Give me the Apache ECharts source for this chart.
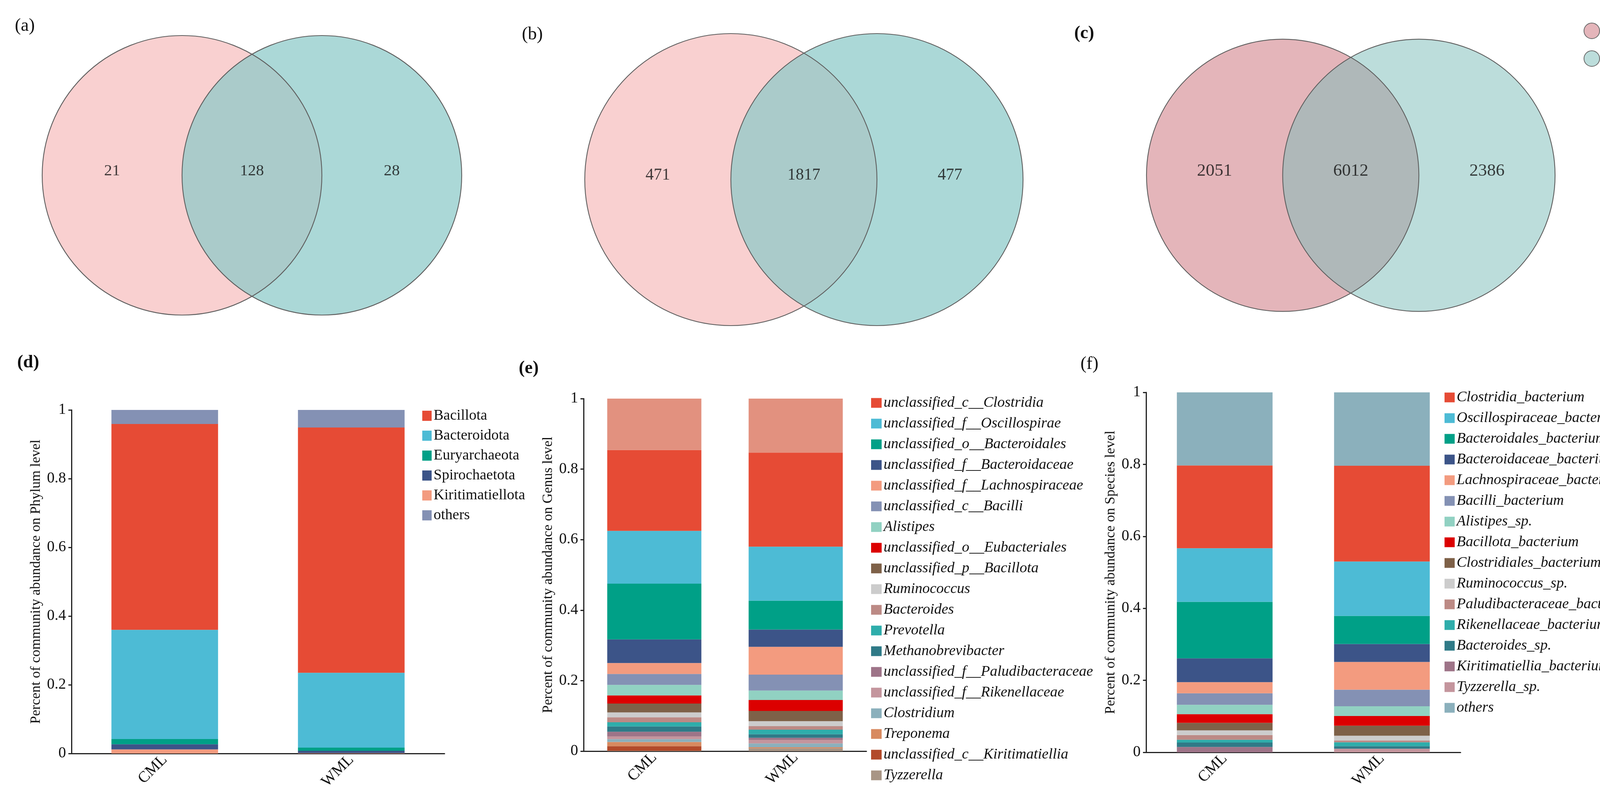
<!DOCTYPE html>
<html>
<head>
<meta charset="utf-8">
<script src="https://cdn.jsdelivr.net/npm/echarts@6/dist/echarts.min.js"></script>
<style>
html,body{margin:0;padding:0;background:#fff;overflow:hidden;}
#chart{width:4244px;height:2044px;}
</style>
</head>
<body>
<div id="chart"></div>
<script>
// ---------------- DATA ----------------
const groups = ['CML', 'WML'];
const yTicks = [0, 0.2, 0.4, 0.6, 0.8, 1];

// Venn counts: [CML only, shared, WML only]
const vennA = [21, 128, 28];
const vennB = [471, 1817, 477];
const vennC = [2051, 6012, 2386];

// Phylum level (legend order; last = others, drawn on top)
const phylumNames = ['Bacillota', 'Bacteroidota', 'Euryarchaeota', 'Spirochaetota', 'Kiritimatiellota', 'others'];
const phylumCML = [0.599, 0.318, 0.015, 0.015, 0.012, 0.041];
const phylumWML = [0.714, 0.218, 0.009, 0.007, 0.001, 0.051];
const phylumColors = ['#E64B35', '#4DBBD5', '#00A087', '#3C5488', '#F39B7F', '#8491B4'];

// Genus level (legend order; last = others, not in legend)
const genusNames = ['unclassified_c__Clostridia', 'unclassified_f__Oscillospirae', 'unclassified_o__Bacteroidales',
  'unclassified_f__Bacteroidaceae', 'unclassified_f__Lachnospiraceae', 'unclassified_c__Bacilli', 'Alistipes',
  'unclassified_o__Eubacteriales', 'unclassified_p__Bacillota', 'Ruminococcus', 'Bacteroides', 'Prevotella',
  'Methanobrevibacter', 'unclassified_f__Paludibacteraceae', 'unclassified_f__Rikenellaceae', 'Clostridium',
  'Treponema', 'unclassified_c__Kiritimatiellia', 'Tyzzerella', 'others'];
const genusCML = [0.229, 0.150, 0.158, 0.067, 0.031, 0.031, 0.030, 0.023, 0.025, 0.014, 0.014, 0.012, 0.015, 0.013, 0.008, 0.008, 0.012, 0.013, 0.001, 0.146];
const genusWML = [0.267, 0.153, 0.082, 0.049, 0.079, 0.045, 0.027, 0.031, 0.029, 0.014, 0.010, 0.013, 0.010, 0.006, 0.010, 0.011, 0.003, 0.000, 0.008, 0.153];
const genusColors = ['#E64B35', '#4DBBD5', '#00A087', '#3C5488', '#F39B7F', '#8491B4', '#91D1C2', '#DC0000', '#7E6148',
  '#CCCCCC', '#BC8A85', '#2EADAB', '#2F7A87', '#9E7488', '#C4959D', '#8BB0BC', '#D88A60', '#B24A2A', '#A89585', '#E2917F'];

// Species level (legend order; last = others)
const speciesNames = ['Clostridia_bacterium', 'Oscillospiraceae_bacterium', 'Bacteroidales_bacterium', 'Bacteroidaceae_bacterium',
  'Lachnospiraceae_bacterium', 'Bacilli_bacterium', 'Alistipes_sp.', 'Bacillota_bacterium', 'Clostridiales_bacterium',
  'Ruminococcus_sp.', 'Paludibacteraceae_bacterium', 'Rikenellaceae_bacterium', 'Bacteroides_sp.',
  'Kiritimatiellia_bacterium', 'Tyzzerella_sp.', 'others'];
const speciesCML = [0.230, 0.149, 0.157, 0.066, 0.031, 0.032, 0.026, 0.024, 0.021, 0.013, 0.013, 0.008, 0.012, 0.015, 0.000, 0.203];
const speciesWML = [0.266, 0.151, 0.078, 0.050, 0.077, 0.046, 0.027, 0.027, 0.028, 0.013, 0.005, 0.011, 0.007, 0.000, 0.010, 0.204];
const speciesColors = ['#E64B35', '#4DBBD5', '#00A087', '#3C5488', '#F39B7F', '#8491B4', '#91D1C2', '#DC0000', '#7E6148',
  '#CCCCCC', '#BC8A85', '#2EADAB', '#2F7A87', '#9E7488', '#C4959D', '#8BB0BC'];

// ---------------- LAYOUT ----------------
const FONT = "'Liberation Serif', 'Times New Roman', serif";
const regionX = [-0.5, 0.5, 1.5];
const circleDefs = [[0, 0, 1], [1, 0, 1]];

const vennGrids = [
  {left: 108, top: 91, width: 1074, height: 716},
  {left: 1497, top: 86, width: 1122, height: 748},
  {left: 2935, top: 100, width: 1046, height: 698}
];
const vennStyles = [
  {left: '#F9D0D0', right: 'rgba(138,201,199,0.72)', font: 41},
  {left: '#F9D0D0', right: 'rgba(138,201,199,0.72)', font: 42},
  {left: '#E4B5BA', right: 'rgba(121,187,183,0.5)', font: 45}
];
const vennData = [vennA, vennB, vennC];

const barGrids = [
  {left: 183, top: 1050, width: 955, height: 880},
  {left: 1494, top: 1021, width: 724, height: 903},
  {left: 2934, top: 1005, width: 805, height: 922}
];
const barWidths = [273, 241, 245];
const yNames = ['Percent of community abundance on Phylum level',
  'Percent of community abundance on Genus level',
  'Percent of community abundance on Species level'];

// ---------------- BUILD ----------------
const grids = [], xAxes = [], yAxes = [], series = [];

vennGrids.forEach((g, i) => {
  grids.push(Object.assign({containLabel: false}, g));
  xAxes.push({type: 'value', gridIndex: i, min: -1, max: 2, show: false});
  yAxes.push({type: 'value', gridIndex: i, min: -1, max: 1, show: false});
  const st = vennStyles[i];
  const circleRender = (fill, stroke) => (params, api) => {
    const c = api.coord([api.value(0), api.value(1)]);
    const r = api.size([api.value(2), 0])[0];
    return {type: 'circle', shape: {cx: c[0], cy: c[1], r: r},
      style: {fill: fill, stroke: stroke || null, lineWidth: stroke ? 2.2 : 0}};
  };
  series.push({type: 'custom', name: 'CML', xAxisIndex: i, yAxisIndex: i, z: 1,
    data: [circleDefs[0]], renderItem: circleRender(st.left, null), silent: true});
  series.push({type: 'custom', name: 'WML', xAxisIndex: i, yAxisIndex: i, z: 2,
    data: [circleDefs[1]], renderItem: circleRender(st.right, null), silent: true});
  series.push({type: 'custom', name: 'outline', xAxisIndex: i, yAxisIndex: i, z: 3,
    data: circleDefs, renderItem: circleRender('none', '#5f5f5f'), silent: true});
  series.push({type: 'scatter', name: 'counts', xAxisIndex: i, yAxisIndex: i, z: 5,
    symbolSize: 1, itemStyle: {color: 'rgba(0,0,0,0)'}, silent: true,
    data: vennData[i].map((v, k) => [regionX[k], 0.03, v]),
    label: {show: true, position: 'inside', formatter: p => String(p.value[2]),
      color: '#111', fontSize: st.font, fontFamily: FONT}});
});

const barSets = [
  {names: phylumNames, cml: phylumCML, wml: phylumWML, colors: phylumColors},
  {names: genusNames, cml: genusCML, wml: genusWML, colors: genusColors},
  {names: speciesNames, cml: speciesCML, wml: speciesWML, colors: speciesColors}
];

barGrids.forEach((g, j) => {
  const gi = j + 3;
  grids.push(Object.assign({containLabel: false}, g));
  xAxes.push({type: 'category', gridIndex: gi, data: groups,
    axisLine: {lineStyle: {color: '#222', width: 3}},
    axisTick: {alignWithLabel: true, length: 10, lineStyle: {color: '#222', width: 3}},
    axisLabel: {rotate: 45, color: '#111', fontSize: 40, fontFamily: FONT, margin: 10}});
  yAxes.push({type: 'value', gridIndex: gi, min: 0, max: 1, interval: 0.2,
    splitLine: {show: false},
    axisLine: {show: true, lineStyle: {color: '#222', width: 3}},
    axisTick: {show: true, length: 8, lineStyle: {color: '#222', width: 3}},
    axisLabel: {color: '#111', fontSize: 39, fontFamily: FONT, margin: 14},
    name: yNames[j], nameLocation: 'middle', nameGap: 72,
    nameTextStyle: {color: '#111', fontSize: 36, fontFamily: FONT}});
  const s = barSets[j];
  const n = s.names.length;
  const order = [];
  for (let i = n - 2; i >= 0; i--) order.push(i);
  order.push(n - 1);
  order.forEach(i => {
    series.push({type: 'bar', name: s.names[i], xAxisIndex: gi, yAxisIndex: gi, stack: 'st' + j,
      barWidth: barWidths[j], data: [s.cml[i], s.wml[i]],
      itemStyle: {color: s.colors[i]}, silent: true});
  });
});

const legendItems = (names, colors) => names.map((nm, i) => ({name: nm, itemStyle: {color: colors[i]}}));

const option = {
  animation: false,
  backgroundColor: '#fff',
  textStyle: {fontFamily: FONT},
  title: [
    {text: '(a)', left: 38, top: 44},
    {text: '(b)', left: 1336, top: 66},
    {text: '(c)', left: 2750, top: 63, bold: true},
    {text: '(d)', left: 44, top: 906, bold: true},
    {text: '(e)', left: 1328, top: 921, bold: true},
    {text: '(f)', left: 2766, top: 910}
  ].map(t => ({text: t.text, left: t.left, top: t.top, padding: 0,
    textStyle: {fontSize: 46, fontFamily: FONT, color: '#111', fontWeight: t.bold ? 'bold' : 'normal'}})),
  grid: grids,
  xAxis: xAxes,
  yAxis: yAxes,
  legend: [
    {left: 4049, top: 52, orient: 'vertical', selectedMode: false, itemWidth: 40, itemHeight: 40, itemGap: 27,
      icon: 'circle',
      data: [{name: 'CML', itemStyle: {color: '#E4B5BA', borderColor: '#6a6a6a', borderWidth: 2}},
             {name: 'WML', itemStyle: {color: '#BCDDDB', borderColor: '#6a6a6a', borderWidth: 2}}],
      textStyle: {fontSize: 44, fontFamily: FONT, color: '#111'}},
    {left: 1076, top: 1041, orient: 'vertical', selectedMode: false, itemWidth: 24, itemHeight: 26, itemGap: 13,
      icon: 'rect', data: legendItems(phylumNames, phylumColors),
      textStyle: {fontSize: 38, fontFamily: FONT, color: '#111'}},
    {left: 2225, top: 1008, orient: 'vertical', selectedMode: false, itemWidth: 27, itemHeight: 25, itemGap: 15,
      icon: 'rect', data: legendItems(genusNames.slice(0, genusNames.length - 1), genusColors),
      textStyle: {fontSize: 38, fontFamily: FONT, fontStyle: 'italic', color: '#111'}},
    {left: 3693, top: 994, orient: 'vertical', selectedMode: false, itemWidth: 26, itemHeight: 25, itemGap: 15,
      icon: 'rect', data: legendItems(speciesNames, speciesColors),
      textStyle: {fontSize: 38, fontFamily: FONT, fontStyle: 'italic', color: '#111'}}
  ],
  series: series
};

const chart = echarts.init(document.getElementById('chart'), null, {renderer: 'canvas'});
chart.setOption(option);
</script>
</body>
</html>
